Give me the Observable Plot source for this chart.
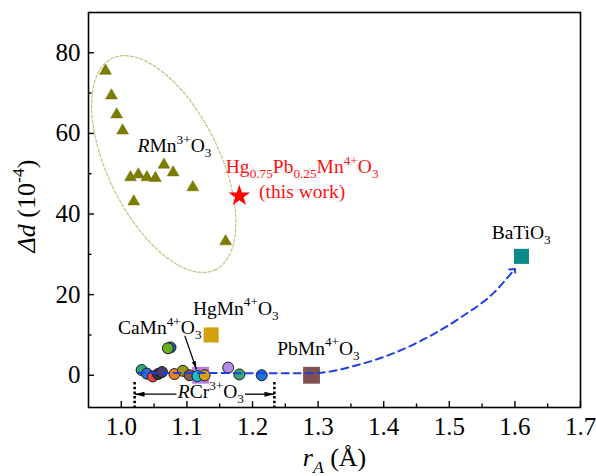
<!DOCTYPE html>
<html><head><meta charset="utf-8">
<script src="https://cdn.jsdelivr.net/npm/d3@7"></script>
<script src="https://cdn.jsdelivr.net/npm/@observablehq/plot@0.6"></script>
<style>body{margin:0;background:#fff}svg{display:block}svg text{font-family:"Liberation Serif","Times New Roman",serif}</style>
</head><body><div id="chart"></div>
<script>
// ---- data ----
// RMn3+O3 (triangles)
const rmnX = [0.976, 0.985, 0.993, 1.002, 1.014, 1.026, 1.039, 1.052, 1.065, 1.079, 1.109, 1.019, 1.159];
const rmnY = [75.5, 69.4, 64.7, 60.7, 49.1, 49.8, 49.1, 48.9, 52.2, 50.3, 46.6, 43.1, 33.2];
// RCr3+O3 and CaMnO3 (circles)
const rcrX = [1.031, 1.039, 1.048, 1.056, 1.062, 1.081, 1.094, 1.104, 1.116, 1.127, 1.163, 1.180, 1.214, 1.075, 1.071];
const rcrY = [1.3, 0.4, -0.3, 0.3, 0.8, 0.3, 1.1, 0.0, -0.2, 0.0, 1.9, 0.2, 0.0, 6.9, 6.7];
const rcrColor = ["#2fa76f", "#2a70d8", "#e8423a", "#333340", "#4b3a6e", "#f5801e", "#9c9a1e", "#8b5a4e",
                  "#18c0c8", "#d8a215", "#b48ce6", "#3aa86e", "#1f70e0", "#1f5fc8", "#66b01e"];
// squares
const sqName = ["RCr-hl", "HgMn", "PbMn", "BaTiO3"];
const sqX = [1.121, 1.137, 1.290, 1.610];
const sqY = [0.0, 10.0, 0.0, 29.5];
const sqColor = ["#b57ee0", "#d4a00e", "#7e504f", "#0a8a88"];
// this work (star)
const starX = [1.180];
const starY = [44.5];
// blue dashed guide curve
const curveX = [1.025, 1.29, 1.364, 1.441, 1.517, 1.568, 1.598];
const curveY = [0.6, 0.5, 2.7, 7.3, 14.3, 20.5, 26.0];
// ellipse around RMnO3: centre and conjugate semi-axes (data units)
const ellCenter = [1.0647, 52.4];
const ellU = [0.0789, -26.2];
const ellV = [-0.0766, -6.09];
// RCr3+O3 range markers
const rangeX = [1.0203, 1.2333];
const rangeY = [-1.8, -8];
const rangeArrowY = -4.7;
const rangeSegX1 = [1.0203, 1.1885];
const rangeSegX2 = [1.084, 1.2333];
// CaMnO3 pointer
const caArrow = {x1: 1.0968, y1: 9.8, x2: 1.1145, y2: 1.5};
// labels
const labelText = ["*R*Mn^{3+}O_{3}", "Hg_{0.75}Pb_{0.25}Mn^{4+}O_{3}", "(this work)", "HgMn^{4+}O_{3}",
                   "CaMn^{4+}O_{3}", "PbMn^{4+}O_{3}", "BaTiO_{3}", "*R*Cr^{3+}O_{3}"];
const labelX = [1.081, 1.2757, 1.2757, 1.1745, 1.0586, 1.3006, 1.6095, 1.1365];
const labelY = [57.0, 51.8, 45.5, 16.6, 11.7, 6.7, 35.3, -4.1];
const labelColor = ["black", "#ff1010", "#ff1010", "black", "black", "black", "black", "black"];
// axes
const xMajor = [1.0, 1.1, 1.2, 1.3, 1.4, 1.5, 1.6, 1.7];
const xMinor = [1.05, 1.15, 1.25, 1.35, 1.45, 1.55, 1.65];
const yMajor = [0, 20, 40, 60, 80];
const yMinor = [10, 30, 50, 70];
const xTitle = "*r*_{*A*} (Å)";
const yTitle = "*Δd* (10^{-4})";

// ---- build ----
const W = 596, H = 476, mL = 88, mR = 16, mT = 12, mB = 69;
const innerW = W - mL - mR, innerH = H - mT - mB;
const FONT = "Liberation Serif, Times New Roman, serif";
const tri = rmnX.map((x, i) => ({x, y: rmnY[i]}));
const circ = rcrX.map((x, i) => ({x, y: rcrY[i], c: rcrColor[i]}));
const sq = sqX.map((x, i) => ({name: sqName[i], x, y: sqY[i], c: sqColor[i]}));
const curve = curveX.map((x, i) => ({x, y: curveY[i]}));
const ell = d3.range(0, 361, 3).map(a => {
  const t = a * Math.PI / 180;
  return {x: ellCenter[0] + Math.cos(t) * ellU[0] + Math.sin(t) * ellV[0],
          y: ellCenter[1] + Math.cos(t) * ellU[1] + Math.sin(t) * ellV[1]};
});
const labels = labelText.map((t, i) => ({t, x: labelX[i], y: labelY[i], c: labelColor[i]}));
const rangeSegs = rangeSegX1.map((x1, i) => ({x1, x2: rangeSegX2[i], y: rangeArrowY}));
const rangeHeads = [{x: rangeX[0], y: rangeArrowY, r: -90}, {x: rangeX[1], y: rangeArrowY, r: 90}];
const caAng = 161.5;

// narrow arrowhead symbol with its tip at the origin, pointing up
const arrowHead = {draw(ctx, size) {
  const r = Math.sqrt(size / Math.PI);
  ctx.moveTo(0, 0); ctx.lineTo(0.45 * r, 1.8 * r); ctx.lineTo(-0.45 * r, 1.8 * r); ctx.closePath();
}};
const sqDot = (name, r) => Plot.dot(sq.filter(d => d.name === name), {x: "x", y: "y", symbol: "square", r, fill: "c", stroke: "none"});

const chart = Plot.plot({
  width: W, height: H, marginLeft: mL, marginRight: mR, marginTop: mT, marginBottom: mB,
  style: {fontFamily: FONT, fontSize: "19.5px", background: "white", color: "black"},
  x: {domain: [0.95, 1.7]},
  y: {domain: [-8, 90]},
  color: {type: "identity"},
  marks: [
    Plot.line(ell, {x: "x", y: "y", stroke: "#c2c282", strokeWidth: 1.2, strokeDasharray: "3,2"}),
    Plot.ruleX(rangeX, {x: d => d, y1: rangeY[0], y2: rangeY[1], stroke: "black", strokeWidth: 2.6, strokeDasharray: "2.5,2.2"}),
    Plot.link(rangeSegs, {x1: "x1", x2: "x2", y1: "y", y2: "y", stroke: "black", strokeWidth: 1.3}),
    Plot.dot(rangeHeads, {x: "x", y: "y", rotate: "r", symbol: arrowHead, r: 5.5, fill: "black", stroke: "none"}),
    Plot.dot(tri, {x: "x", y: "y", symbol: "triangle", r: 4.4, fill: "#7d7d00", stroke: "#6e6e00", strokeWidth: 0.5}),
    sqDot("RCr-hl", 9.5),
    Plot.dot(circ, {x: "x", y: "y", r: 5.5, fill: "c", stroke: "#1a1a1a", strokeWidth: 1}),
    sqDot("HgMn", 8.5),
    sqDot("PbMn", 9.5),
    sqDot("BaTiO3", 8.5),
    Plot.line(curve, {x: "x", y: "y", curve: "monotone-x", stroke: "#1f3fe6", strokeWidth: 2, strokeDasharray: "7,5", markerEnd: "arrow"}),
    Plot.dot(starX.map((x, i) => ({x, y: starY[i]})), {x: "x", y: "y", symbol: "star", r: 6.8, fill: "#ff0000", stroke: "none"}),
    Plot.link([caArrow], {x1: "x1", y1: "y1", x2: "x2", y2: "y2", stroke: "black", strokeWidth: 1.2}),
    Plot.dot([caArrow], {x: "x2", y: "y2", rotate: caAng, symbol: arrowHead, r: 4.5, fill: "black", stroke: "none"}),
    Plot.text(labels, {x: "x", y: "y", text: "t", fill: "c", fontSize: 19.5, fontFamily: FONT}),
    Plot.frame({stroke: "black", strokeWidth: 1.6}),
    Plot.tickX(xMajor, {x: d => d, insetTop: innerH - 6, stroke: "black", strokeWidth: 1.4}),
    Plot.tickX(xMinor, {x: d => d, insetTop: innerH - 3.5, stroke: "black", strokeWidth: 1.4}),
    Plot.tickY(yMajor, {y: d => d, insetRight: innerW - 6, stroke: "black", strokeWidth: 1.4}),
    Plot.tickY(yMinor, {y: d => d, insetRight: innerW - 3.5, stroke: "black", strokeWidth: 1.4}),
    Plot.axisX({ticks: xMajor, tickSize: 0, tickPadding: 10, tickFormat: d3.format(".1f"), fontSize: 25, fontFamily: FONT, fill: "black", label: null}),
    Plot.axisY({ticks: yMajor, tickSize: 0, tickPadding: 8, tickFormat: d => String(d), fontSize: 25, fontFamily: FONT, fill: "black", label: null}),
    Plot.text([xTitle], {text: d => d, frameAnchor: "bottom", textAnchor: "middle", lineAnchor: "middle", dy: 50, fontSize: 26, fontFamily: FONT}),
    Plot.text([yTitle], {text: d => d, frameAnchor: "left", textAnchor: "middle", lineAnchor: "middle", dx: -62, dy: -4, rotate: -90, fontSize: 26, fontFamily: FONT})
  ]
});
document.getElementById("chart").appendChild(chart);

// ---- rich text: *italic*, _{sub}, ^{sup} ----
function parseRich(s) {
  const segs = []; let italic = false, mode = "n", buf = "";
  const flush = () => { if (buf) segs.push({t: buf, italic, mode}); buf = ""; };
  for (let i = 0; i < s.length; i++) {
    const c = s[i];
    if (c === "*") { flush(); italic = !italic; }
    else if ((c === "_" || c === "^") && s[i + 1] === "{") { flush(); mode = c === "_" ? "sub" : "sup"; i++; }
    else if (c === "}" && mode !== "n") { flush(); mode = "n"; }
    else buf += c;
  }
  flush();
  return segs;
}
d3.select(chart).selectAll("text").each(function() {
  const el = this, s = el.textContent;
  if (!/[*_^]/.test(s)) return;
  const fs = parseFloat(getComputedStyle(el).fontSize) || 19.5;
  const segs = parseRich(s);
  el.textContent = "";
  let off = 0;
  for (const g of segs) {
    const target = g.mode === "sub" ? 0.26 * fs : g.mode === "sup" ? -0.42 * fs : 0;
    const ts = d3.select(el).append("tspan").text(g.t);
    if (target !== off) ts.attr("dy", (target - off).toFixed(2));
    off = target;
    if (g.mode !== "n") ts.attr("font-size", (0.68 * fs).toFixed(2));
    if (g.italic) ts.attr("font-style", "italic");
  }
});
</script>
</body></html>
